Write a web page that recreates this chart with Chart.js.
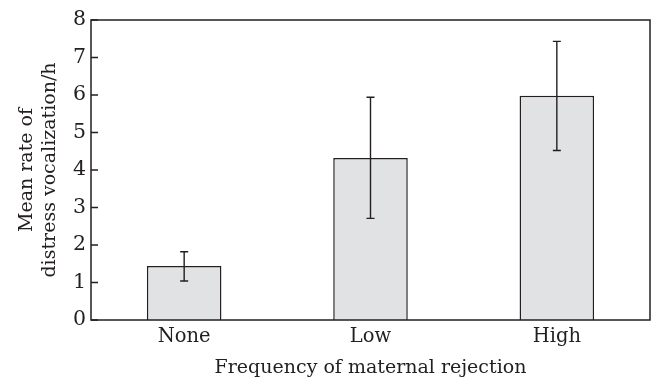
<!DOCTYPE html>
<html>
<head>
<meta charset="utf-8">
<script src="https://cdn.jsdelivr.net/npm/chart.js@4"></script>
<style>
  html, body { margin: 0; padding: 0; background: #fff; }
</style>
</head>
<body>
<canvas id="bar-chart" width="653" height="380"></canvas>
<script>
const categories = ['None', 'Low', 'High'];
const meanRate = [1.44, 4.32, 5.98];
const errLower = [1.04, 2.71, 4.52];
const errUpper = [1.82, 5.94, 7.43];
const yTicks = [0, 1, 2, 3, 4, 5, 6, 7, 8];

const ink = '#231f20';
const fontFamily = '"DejaVu Serif", serif';

// error bars, frame and inward y ticks
const extras = {
  id: 'extras',
  afterDatasetsDraw(chart) {
    const ctx = chart.ctx;
    const y = chart.scales.y;
    const area = chart.chartArea;
    const meta = chart.getDatasetMeta(0);
    ctx.save();
    ctx.strokeStyle = ink;
    ctx.lineWidth = 1.4;
    meta.data.forEach((bar, i) => {
      const yHi = y.getPixelForValue(errUpper[i]);
      const yLo = y.getPixelForValue(errLower[i]);
      ctx.beginPath();
      ctx.moveTo(bar.x, yHi);
      ctx.lineTo(bar.x, yLo);
      ctx.moveTo(bar.x - 4, yHi);
      ctx.lineTo(bar.x + 4, yHi);
      ctx.moveTo(bar.x - 4, yLo);
      ctx.lineTo(bar.x + 4, yLo);
      ctx.stroke();
    });
    ctx.lineWidth = 1.5;
    ctx.strokeRect(area.left, area.top, area.right - area.left, area.bottom - area.top);
    ctx.lineWidth = 1.3;
    ctx.beginPath();
    yTicks.forEach(v => {
      const py = y.getPixelForValue(v);
      ctx.moveTo(area.left, py);
      ctx.lineTo(area.left + 7, py);
    });
    ctx.stroke();
    ctx.restore();
  }
};

new Chart(document.getElementById('bar-chart'), {
  type: 'bar',
  data: {
    labels: categories,
    datasets: [{
      data: meanRate,
      backgroundColor: '#e1e2e4',
      borderColor: ink,
      borderWidth: 1.5,
      categoryPercentage: 1,
      barPercentage: 0.4,
    }],
  },
  options: {
    responsive: false,
    devicePixelRatio: 1,
    animation: false,
    layout: { padding: { top: 20, right: 3, bottom: 0, left: 0 } },
    plugins: {
      legend: { display: false },
      tooltip: { enabled: false },
    },
    scales: {
      x: {
        grid: { display: false, drawTicks: false },
        border: { display: false },
        ticks: { color: ink, font: { family: fontFamily, size: 19.5 }, padding: 5 },
        title: {
          display: true,
          text: 'Frequency of maternal rejection',
          color: ink,
          font: { family: fontFamily, size: 19 },
          padding: { top: 0, bottom: 1 },
        },
        afterFit(scale) { scale.height = 60; },
      },
      y: {
        min: 0,
        max: 8,
        grid: { display: false, drawTicks: false },
        border: { display: false },
        ticks: { stepSize: 1, color: ink, font: { family: fontFamily, size: 20.5 }, padding: 5 },
        title: {
          display: true,
          text: ['Mean rate of', 'distress vocalization/h'],
          color: ink,
          font: { family: fontFamily, size: 19 },
          padding: { top: 16, bottom: 0 },
        },
        afterFit(scale) { scale.width = 91; },
      },
    },
  },
  plugins: [extras],
});
</script>
</body>
</html>
